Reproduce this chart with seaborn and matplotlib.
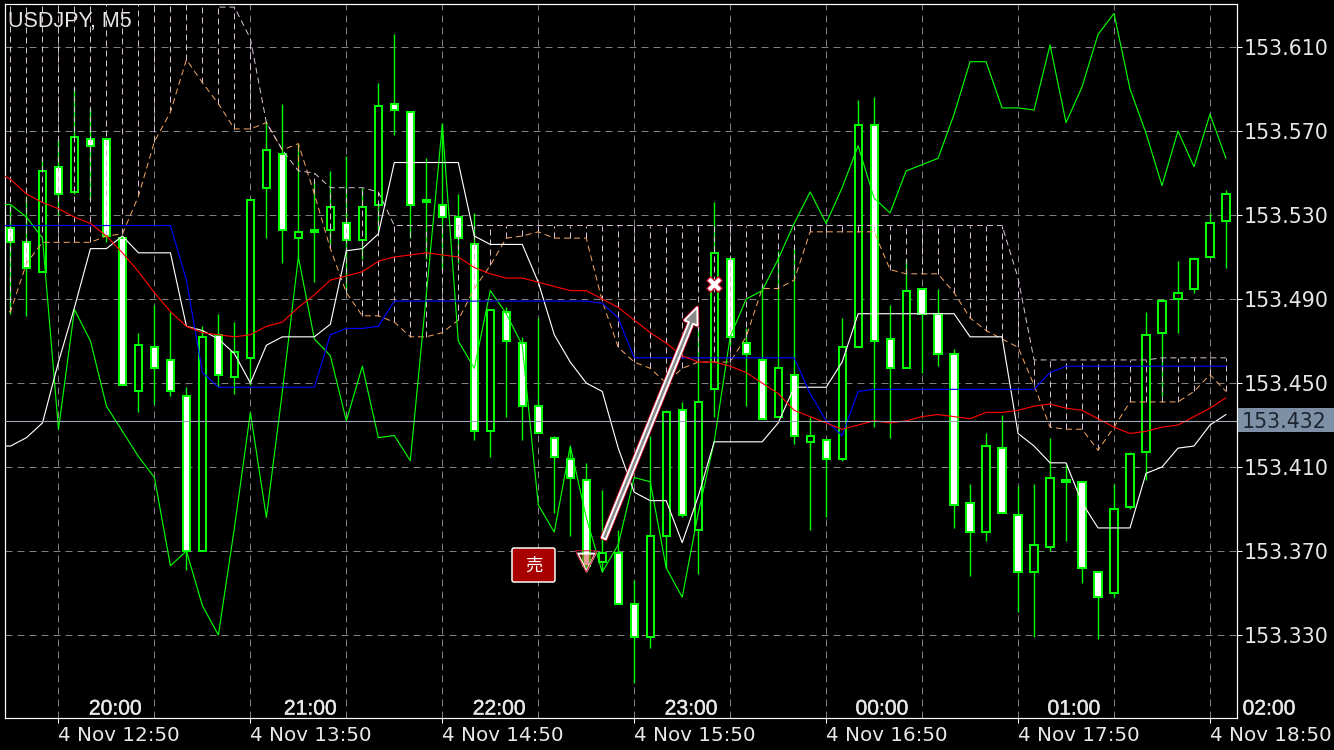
import matplotlib
matplotlib.use('Agg')
import matplotlib.pyplot as plt
import matplotlib.patheffects as pe
from matplotlib.patches import FancyArrowPatch, FancyBboxPatch, Rectangle
from matplotlib.transforms import Affine2D
import numpy as np
import pandas as pd
import seaborn as sns

# all prices are in points above 153.000
base_price = 153.0

opens = [524, 517, 503, 553, 541, 566, 566, 519, 446, 467, 461, 444, 370, 473, 453, 462, 543, 559, 519, 523,
         523, 526, 518, 535, 583, 579, 537, 535, 529, 516, 427, 484, 469, 439, 424, 414, 404, 365, 369, 345,
         329, 377, 437, 380, 447, 509, 469, 461, 434, 454, 422, 423, 414, 467, 573, 471, 457, 495, 483, 464,
         393, 379, 419, 387, 360, 372, 404, 403, 360, 350, 391, 417, 474, 490, 495, 510, 527]
highs = [535, 539, 557, 566, 591, 581, 566, 520, 474, 487, 484, 448, 477, 483, 479, 537, 575, 583, 564, 546,
         551, 558, 543, 593, 616, 579, 557, 574, 540, 531, 485, 486, 472, 481, 425, 419, 412, 399, 380, 356,
         425, 437, 441, 477, 536, 509, 476, 497, 513, 515, 434, 423, 481, 585, 586, 487, 509, 495, 495, 466,
         402, 426, 435, 401, 402, 424, 412, 403, 360, 402, 417, 484, 490, 508, 510, 531, 542]
lows = [483, 482, 503, 530, 540, 537, 517, 449, 436, 440, 444, 361, 370, 448, 445, 449, 519, 507, 510, 498,
        516, 494, 509, 523, 568, 519, 509, 504, 507, 423, 415, 434, 423, 426, 388, 377, 360, 360, 345, 307,
        324, 362, 386, 359, 434, 468, 439, 433, 434, 421, 380, 386, 413, 467, 429, 424, 457, 455, 458, 381,
        358, 375, 388, 341, 329, 370, 375, 355, 328, 348, 390, 404, 444, 474, 493, 510, 505]
closes = [517, 505, 551, 540, 567, 563, 520, 449, 468, 457, 446, 370, 472, 454, 465, 537, 561, 523, 522, 522,
          534, 518, 534, 582, 580, 535, 536, 529, 519, 427, 485, 470, 439, 426, 415, 405, 363, 369, 345, 329,
          377, 436, 387, 441, 512, 472, 464, 433, 457, 425, 425, 414, 467, 573, 470, 457, 494, 483, 464, 392,
          379, 420, 388, 360, 373, 405, 403, 362, 348, 390, 416, 473, 489, 493, 509, 526, 540]

# the indicator lines start one candle earlier, off the left edge
lime_line = [535, 535, 529, 519, 428, 485, 470, 439, 427, 415, 405, 363, 370, 344, 330, 381, 436, 386, 446, 510, 471,
             463, 432, 458, 424, 425, 413, 492, 573, 470, 457, 494, 483, 468, 392, 379, 420, 386, 360, 373, 405,
             403, 362, 348, 388, 422, 472, 490, 494, 509, 526, 541, 526, 543, 563, 538, 531, 551, 554, 557, 578,
             603, 603, 581, 581, 580, 611, 574, 591, 616, 626, 590, 569, 544, 570, 553, 578, 557]
white_line = [420, 420, 424, 431, 460, 486, 514, 514, 520, 512, 512, 512, 477, 475, 471, 464, 450, 468, 472, 472, 472,
              478, 513, 514, 521, 555, 555, 555, 555, 555, 520, 516, 516, 516, 498, 473, 460, 450, 446, 419, 398,
              394, 394, 374, 396, 422, 422, 422, 422, 431, 448, 448, 448, 460, 483, 483, 483, 483, 483, 483, 483,
              472, 472, 472, 426, 420, 412, 412, 393, 381, 381, 381, 407, 410, 419, 420, 430, 435]
blue_line = [525, 525, 525, 525, 525, 525, 525, 525, 525, 525, 525, 525, 499, 455, 448, 448, 448, 448, 448, 448, 448,
             473, 476, 476, 477, 489, 489, 489, 489, 489, 489, 489, 489, 489, 489, 489, 489, 489, 488, 481, 462,
             462, 462, 462, 462, 462, 462, 462, 462, 462, 462, 445, 432, 425, 446, 447, 447, 447, 447, 447, 447,
             447, 447, 447, 447, 447, 455, 458, 458, 458, 458, 458, 458, 458, 458, 458, 458, 458]
red_line = [551, 547, 540, 536, 533, 529, 526, 520, 512, 503, 493, 484, 477, 474, 473, 472, 473, 477, 479, 486, 492,
            499, 501, 503, 508, 510, 511, 512, 511, 510, 505, 502, 500, 500, 498, 496, 494, 494, 490, 486, 480,
            474, 469, 463, 460, 460, 458, 455, 450, 445, 437, 434, 431, 428, 430, 432, 431, 432, 434, 435, 434,
            433, 436, 436, 437, 439, 440, 438, 437, 433, 429, 426, 427, 429, 430, 434, 438, 443]
span_a = [484, 484, 507, 517, 517, 517, 517, 520, 521, 539, 565, 579, 604, 593, 583, 571, 571, 574, 561, 564, 540,
          514, 493, 482, 482, 479, 472, 472, 474, 480, 495, 506, 519, 520, 522, 519, 519, 519, 489, 467, 460,
          457, 450, 457, 460, 460, 460, 472, 495, 495, 499, 522, 522, 522, 522, 522, 504, 502, 502, 502, 493,
          481, 475, 471, 467, 449, 429, 428, 428, 418, 429, 441, 441, 441, 441, 446, 454, 446]
span_b = [645, 645, 645, 645, 645, 645, 645, 645, 645, 645, 645, 645, 645, 645, 629, 629, 614, 574, 561, 551, 550,
          543, 543, 543, 541, 525, 525, 525, 525, 525, 525, 525, 525, 525, 525, 525, 525, 525, 525, 525, 525,
          525, 525, 525, 525, 525, 525, 525, 525, 525, 525, 525, 525, 525, 525, 525, 525, 525, 525, 525, 525,
          525, 525, 525, 500, 461, 461, 461, 461, 461, 461, 461, 461, 462, 462, 462, 462, 462]

price_ticks = [153.610, 153.570, 153.530, 153.490, 153.450, 153.410, 153.370, 153.330]
date_tick_candles = [3, 15, 27, 39, 51, 63, 75]
date_tick_labels = ['4 Nov 12:50', '4 Nov 13:50', '4 Nov 14:50', '4 Nov 15:50', '4 Nov 16:50', '4 Nov 17:50',
                    '4 Nov 18:50']
grid_only_candles = [9, 21, 33, 45, 57, 69]
time_label_candles = [6.56, 18.75, 30.56, 42.56, 54.5, 66.5, 78.7]
time_labels = ['20:00', '21:00', '22:00', '23:00', '00:00', '01:00', '02:00']
last_price = 153.432

sell_candle, sell_price = 36, 153.365
close_candle, close_price = 44, 153.497
trade_from = (37.1, 153.376)
trade_to = (42.94, 153.486)

LIME = '#00ff00'
THISTLE = '#d8bfd8'
SANDY = '#f4a460'
GRID = '#808080'
TEXT = '#e8e8e8'
PX = 0.72  # one pixel in points at 100 dpi

sns.set_theme(style='dark', rc={'figure.facecolor': 'black', 'axes.facecolor': 'black', 'axes.edgecolor': 'white',
                                'text.color': TEXT, 'xtick.color': TEXT, 'ytick.color': TEXT})
plt.rcParams['font.family'] = ['DejaVu Sans']

candles = pd.DataFrame({'open': opens, 'high': highs, 'low': lows, 'close': closes})
candles = base_price + candles / 1000
candles['candle'] = np.arange(len(candles))

lines = pd.DataFrame({'lime': lime_line, 'white': white_line, 'blue': blue_line, 'red': red_line,
                      'span_a': span_a, 'span_b': span_b})
lines = base_price + lines / 1000
lines['candle'] = np.arange(len(lines)) - 1

fig = plt.figure(figsize=(13.34, 7.5), dpi=100)
ax = fig.add_axes([4.5 / 1334, 1 - 718 / 750, 1232.5 / 1334, 714 / 750])

# pixel coordinates with the origin top left, for the labels around the plot
px = Affine2D().scale(1, -1).translate(0, 750)

# candles: falling ones are white, rising ones black
falling = candles['close'] < candles['open']
ax.vlines(candles['candle'], candles['low'], candles['high'], color=LIME, lw=1.4 * PX, zorder=2)
body_bottom = candles[['open', 'close']].min(axis=1)
body_height = (candles['open'] - candles['close']).abs()
ax.bar(candles['candle'], body_height, bottom=body_bottom, width=0.45, linewidth=2 * PX, edgecolor=LIME,
       color=np.where(falling, 'white', 'black'), zorder=3)

# hatching between the two spans
span_top_b = lines['span_b'] >= lines['span_a']
dash = (0, (6, 4))
ax.vlines(lines['candle'][span_top_b], lines['span_a'][span_top_b], lines['span_b'][span_top_b], color=THISTLE,
          lw=PX, linestyles=dash, zorder=4)
ax.vlines(lines['candle'][~span_top_b], lines['span_b'][~span_top_b], lines['span_a'][~span_top_b], color=SANDY,
          lw=PX, linestyles=dash, zorder=4)

sns.lineplot(data=lines, x='candle', y='span_a', color=SANDY, lw=PX, linestyle=dash, estimator=None, errorbar=None,
             ax=ax, zorder=4)
sns.lineplot(data=lines, x='candle', y='span_b', color=THISTLE, lw=PX, linestyle=dash, estimator=None, errorbar=None,
             ax=ax, zorder=4)
for col, colour in [('lime', LIME), ('white', 'white'), ('blue', '#0000ff'), ('red', '#ff0000')]:
    sns.lineplot(data=lines, x='candle', y=col, color=colour, lw=1.15 * PX, estimator=None, errorbar=None, ax=ax,
                 zorder=5)

ax.axhline(last_price, color='#9fa9b5', lw=1.1 * PX, zorder=5)

# trade arrow and markers
arrow = FancyArrowPatch(trade_from, trade_to, arrowstyle='simple,tail_width=3,head_width=10,head_length=12',
                        mutation_scale=1, shrinkA=0, shrinkB=0, fc='#8a8a8a', ec='white', lw=1.7 * PX, zorder=7,
                        path_effects=[pe.withStroke(linewidth=3.8 * PX, foreground='#c8102e'), pe.Normal()])
ax.add_patch(arrow)
ax.scatter([sell_candle], [sell_price], marker='v', s=165, facecolor=(0.78, 0.12, 0.1, 0.45), edgecolor='white',
           linewidth=2 * PX, zorder=7)
ax.scatter([sell_candle], [sell_price], marker='v', s=240, facecolor='none', edgecolor='#c8102e', linewidth=PX, zorder=7)
ax.scatter([close_candle], [close_price], marker='X', s=125, facecolor='white', edgecolor='#c8102e',
           linewidth=1.3 * PX, zorder=7)

ax.set_xlim(-0.375, 76.69)
ax.set_ylim(base_price + 0.29050, base_price + 0.63048)
ax.set_xlabel('')
ax.set_ylabel('')

# axes, ticks and grid
ax.yaxis.tick_right()
ax.set_yticks(price_ticks)
ax.set_yticklabels([f'{p:.3f}' for p in price_ticks], fontsize=14.8, color=TEXT)
ax.set_xticks(date_tick_candles)
ax.set_xticklabels(date_tick_labels, fontsize=14.3, color=TEXT, ha='left')
ax.set_xticks(grid_only_candles, minor=True)
ax.tick_params(axis='y', which='major', right=True, length=3.6, width=PX, pad=1, color='white')
ax.tick_params(axis='x', which='major', bottom=True, length=3.6, width=PX, pad=2.2, color='white')
ax.tick_params(axis='x', which='minor', bottom=False, length=0)
ax.set_axisbelow(True)
ax.grid(True, which='both', color=GRID, lw=PX, linestyle=(0, (7, 5)))
for spine in ax.spines.values():
    spine.set_color('white')
    spine.set_linewidth(1.2 * PX)

thicker = [pe.withStroke(linewidth=0.3, foreground=TEXT)]
ax.text(8, 22, 'USDJPY, M5', transform=px, family='Liberation Sans', fontsize=15.5, color='#e8e8e8', va='center',
        ha='left')
for candle, label in zip(time_label_candles, time_labels):
    ax.text(candle, 0.0125, label, transform=ax.get_xaxis_transform(), family='Liberation Sans', fontsize=15.2,
            color=TEXT, ha='center', va='center', clip_on=False, zorder=8, path_effects=thicker)

# last price tag and the sell button
fig.add_artist(Rectangle((1238, 408), 96, 24, transform=px, fc='#7d90a6', ec='none'))
fig.text(1242, 421.5, f'{last_price:.3f}', transform=px, fontsize=14.8, color='#1c2530', va='center', ha='left')
fig.add_artist(FancyBboxPatch((512, 548), 43, 34, boxstyle='round,pad=0,rounding_size=2', transform=px, fc='#a80000',
                              ec='white', lw=1.5 * PX))
fig.text(533.5, 565.5, '売', transform=px, family=['Noto Sans CJK JP', 'DejaVu Sans'], fontsize=12.5, color='white',
         va='center', ha='center')

fig.savefig('out.png', dpi=100, facecolor='black')
